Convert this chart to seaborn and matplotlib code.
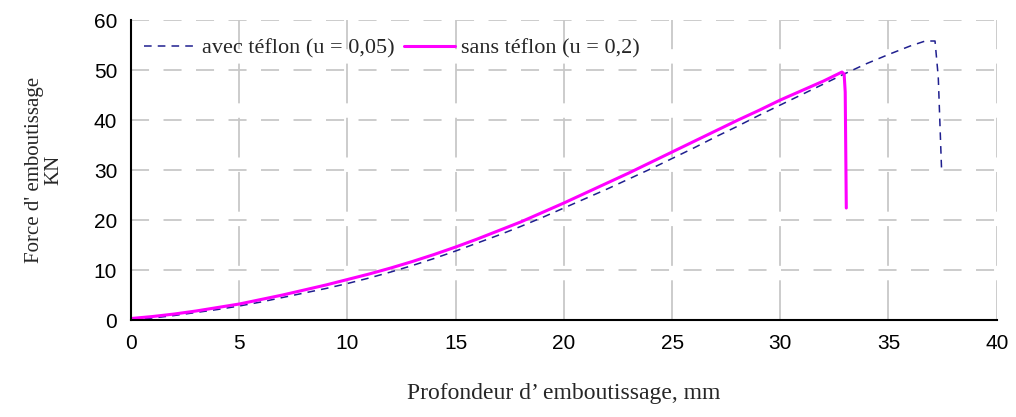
import numpy as np
import pandas as pd
import matplotlib
matplotlib.use('Agg')
import matplotlib.pyplot as plt
import seaborn as sns

# données
x_teflon = [0, 1, 2, 3, 4, 5, 6, 7, 8, 9, 10, 11, 12, 13, 14, 15, 16, 17, 18, 19, 20,
            21, 22, 23, 24, 25, 26, 27, 28, 29, 30, 31, 32, 33, 34, 35, 36, 36.7, 37.15, 37.3, 37.45]
y_teflon = [0, 0.4, 0.9, 1.5, 2.1, 2.8, 3.6, 4.5, 5.4, 6.3, 7.3, 8.4, 9.6, 10.9, 12.3, 13.8, 15.4,
            17.0, 18.7, 20.5, 22.4, 24.3, 26.2, 28.2, 30.2, 32.3, 34.4, 36.6, 38.7, 40.9, 43.0,
            45.1, 47.2, 49.3, 51.3, 53.1, 54.8, 55.8, 55.8, 48.6, 30.4]

x_sans = [0, 1, 2, 3, 4, 5, 6, 7, 8, 9, 10, 11, 12, 13, 14, 15, 16, 17, 18, 19, 20,
          21, 22, 23, 24, 25, 26, 27, 28, 29, 30, 31, 32, 32.85, 32.95, 33.0, 33.05]
y_sans = [0.3, 0.7, 1.2, 1.8, 2.5, 3.2, 4.1, 5.0, 6.0, 7.0, 8.1, 9.2, 10.4, 11.7, 13.1, 14.6,
          16.2, 17.9, 19.6, 21.5, 23.4, 25.4, 27.4, 29.4, 31.5, 33.6, 35.7, 37.8, 39.9, 41.9,
          44.0, 45.9, 47.8, 49.6, 49.2, 45.6, 22.4]

df = pd.concat([
    pd.DataFrame({'x': x_teflon, 'y': y_teflon, 'serie': 'avec téflon (u = 0,05)'}),
    pd.DataFrame({'x': x_sans, 'y': y_sans, 'serie': 'sans téflon (u = 0,2)'}),
])

sns.set_style('white')
fig = plt.figure(figsize=(10.16, 4.17), dpi=100)
ax = fig.add_axes([0.129, 0.2326, 0.852, 0.7194])

sns.lineplot(data=df[df.serie == 'avec téflon (u = 0,05)'], x='x', y='y', ax=ax,
             color='#1f1f8f', linewidth=1.1, sort=False, estimator=None,
             label='avec téflon (u = 0,05)')
ax.lines[-1].set_linestyle((0, (5, 4)))
sns.lineplot(data=df[df.serie == 'sans téflon (u = 0,2)'], x='x', y='y', ax=ax,
             color='#ff00ff', linewidth=2.2, sort=False, estimator=None,
             label='sans téflon (u = 0,2)')

ax.set_xlim(0, 40)
ax.set_ylim(0, 60)
ax.set_xticks(np.arange(0, 41, 5))
ax.set_yticks(np.arange(0, 61, 10))
ax.grid(True, axis='y', color='#c8c8c8', linestyle=(0, (10, 8)), linewidth=1.3)
ax.grid(True, axis='x', color='#c8c8c8', linestyle=(0, (22, 8)), linewidth=1.3)
ax.set_axisbelow(True)

for s in ['top', 'right']:
    ax.spines[s].set_visible(False)
for s in ['left', 'bottom']:
    ax.spines[s].set_color('black')
    ax.spines[s].set_linewidth(1.5)

ax.tick_params(axis='both', direction='inout', length=8, width=1.2, colors='black',
               labelsize=15, pad=6)
for lab in ax.get_xticklabels() + ax.get_yticklabels():
    lab.set_family('Liberation Sans')

ax.set_xlabel("Profondeur d’ emboutissage, mm", family='Liberation Serif', fontsize=17, labelpad=22)
ax.set_ylabel("Force d' emboutissage\nKN", family='Liberation Serif', fontsize=15,
              labelpad=22, linespacing=1.0)

ax.legend(loc='upper left', ncol=2, frameon=False, prop={'family': 'Liberation Serif', 'size': 16},
          handlelength=2.3, handletextpad=0.3, columnspacing=0.4, borderaxespad=0.2,
          bbox_to_anchor=(0.0, 0.985))

fig.savefig('out.png', dpi=100)
